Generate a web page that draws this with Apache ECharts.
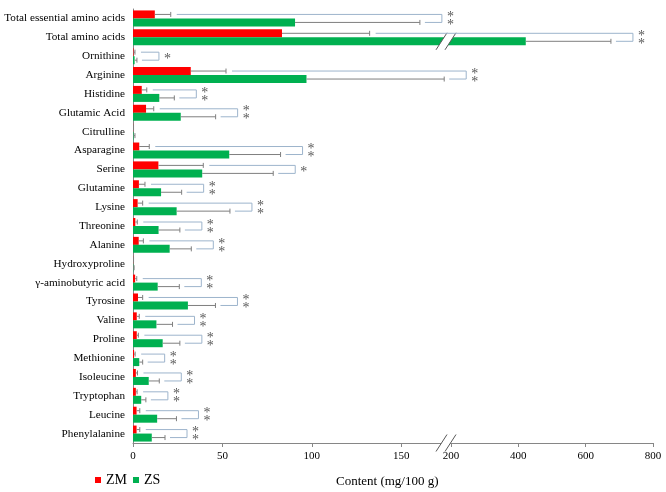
<!DOCTYPE html>
<html><head><meta charset="utf-8">
<script src="https://cdn.jsdelivr.net/npm/echarts@6/dist/echarts.min.js"></script>
<style>html,body{margin:0;padding:0;background:#fff}#c{width:666px;height:492px}</style>
</head><body><div id="c"></div>
<script>
// ---------------- data ----------------
const categories = ['Total essential amino acids','Total amino acids','Ornithine','Arginine','Histidine','Glutamic Acid','Citrulline','Asparagine','Serine','Glutamine','Lysine','Threonine','Alanine','Hydroxyproline','\u03b3-aminobutyric acid','Tyrosine','Valine','Proline','Methionine','Isoleucine','Tryptophan','Leucine','Phenylalanine'];
const zmValues = [12.2, 83.3, 0.3, 32.3, 4.9, 7.3, 0.1, 3.5, 14.2, 3.3, 2.6, 1.3, 3.2, 0.1, 1.2, 2.8, 2.1, 2.1, 0.6, 1.6, 1.6, 2.0, 2.0];
const zmErrors = [8.9, 49, 0.8, 19.7, 2.8, 4.3, 0.2, 5.6, 25.1, 3.4, 2.8, 1.1, 2.6, 0.2, 0.9, 2.6, 1.4, 0.9, 0.6, 0.9, 0.7, 1.8, 1.8];
const zsValues = [90.6, 422, 0.9, 97, 14.7, 26.7, 0.3, 53.8, 38.7, 15.7, 24.4, 14.3, 20.5, 0.2, 13.8, 30.7, 13.1, 16.6, 3.5, 8.8, 4.6, 13.5, 10.5];
const zsErrors = [69.8, 253, 1.3, 77, 8.4, 19.5, 0.8, 28.7, 39.7, 11.5, 29.8, 11.9, 12.1, 0.4, 12.1, 15.4, 9.0, 9.6, 1.9, 5.9, 2.6, 10.8, 7.4];
const significance = ['**','**','*','**','**','**','','**','*','**','**','**','**','','**','**','**','**','**','**','**','**','**'];
const leftTicks = [0, 50, 100, 150];
const rightTicks = [200, 400, 600, 800];
const seriesNames = ['ZM', 'ZS'];
const axisTitle = 'Content (mg/100 g)';

// ---------------- style ----------------
const FONT = "'Liberation Serif','Times New Roman',serif";
const RED = '#FF0000', GREEN = '#00B050';
const AXIS = '#868686', ERR = '#7F7F7F', BR = '#9DB4CC', STAR = '#595959';
const LEFT_MAX = 175, RIGHT_MIN = 185, RIGHT_MAX = 800;
const BAR_W = 8, HALF = BAR_W / 2;

const chart = echarts.init(document.getElementById('c'));

function catAxis(i, show) {
  return {
    type: 'category', gridIndex: i, data: categories, inverse: true, show: show,
    axisTick: {show: false},
    axisLine: {show: show, lineStyle: {color: AXIS, width: 1}},
    axisLabel: {show: show, interval: 0, fontFamily: FONT, fontSize: 11.2, color: '#000', margin: 8},
    splitLine: {show: false}
  };
}
function valAxis(i, min, max, ticks) {
  return {
    type: 'value', gridIndex: i, min: min, max: max,
    splitLine: {show: false},
    axisLine: {show: true, lineStyle: {color: AXIS, width: 1}},
    axisTick: {show: true, length: 4, customValues: ticks, lineStyle: {color: AXIS}},
    axisLabel: {customValues: ticks, fontFamily: FONT, fontSize: 11, color: '#000', margin: 8}
  };
}
function bars(gi) {
  return [
    {name: seriesNames[0], type: 'bar', xAxisIndex: gi, yAxisIndex: gi, data: zmValues, barWidth: BAR_W, barGap: '0%', itemStyle: {color: RED}, clip: true, silent: true},
    {name: seriesNames[1], type: 'bar', xAxisIndex: gi, yAxisIndex: gi, data: zsValues, barWidth: BAR_W, barGap: '0%', itemStyle: {color: GREEN}, clip: true, silent: true}
  ];
}

chart.setOption({
  animation: false,
  backgroundColor: '#fff',
  title: {text: axisTitle, left: 336, top: 475, padding: 0,
          textStyle: {fontFamily: FONT, fontSize: 13, fontWeight: 'normal', color: '#000'}},
  legend: {data: seriesNames, left: 95, top: 473, padding: 0, itemWidth: 6, itemHeight: 6, itemGap: 6, icon: 'rect',
           textStyle: {fontFamily: FONT, fontSize: 14, color: '#000'}},
  grid: [
    {left: 133, width: 313, top: 9, bottom: 49, outerBoundsMode: 'none'},
    {left: 446, width: 207, top: 9, bottom: 49, outerBoundsMode: 'none'}
  ],
  xAxis: [valAxis(0, 0, LEFT_MAX, leftTicks), valAxis(1, RIGHT_MIN, RIGHT_MAX, rightTicks)],
  yAxis: [catAxis(0, true), catAxis(1, false)],
  series: bars(0).concat(bars(1))
});

// piecewise mapping from the two axes of the broken scale
const a0 = chart.convertToPixel({xAxisIndex: 0}, 0), a1 = chart.convertToPixel({xAxisIndex: 0}, LEFT_MAX);
const b0 = chart.convertToPixel({xAxisIndex: 1}, RIGHT_MIN), b1 = chart.convertToPixel({xAxisIndex: 1}, RIGHT_MAX);
function xPx(v) {
  return v <= LEFT_MAX ? a0 + (a1 - a0) * v / LEFT_MAX
                       : b0 + (b1 - b0) * (v - RIGHT_MIN) / (RIGHT_MAX - RIGHT_MIN);
}
const yCat = i => chart.convertToPixel({yAxisIndex: 0}, categories[i]);
const band = yCat(1) - yCat(0);

function renderItem(params, api) {
  const i = api.value(1);
  const yc = api.coord([0, i])[1];
  const yR = yc - HALF, yG = yc + HALF;
  const ch = [];
  function err(v, sd, y) {
    const x1 = xPx(v), x2 = xPx(v + sd);
    ch.push({type: 'line', shape: {x1: x1, y1: y, x2: x2, y2: y}, style: {stroke: ERR, lineWidth: 1}});
    ch.push({type: 'line', shape: {x1: x2, y1: y - 2.5, x2: x2, y2: y + 2.5}, style: {stroke: ERR, lineWidth: 1}});
    return x2;
  }
  const xr = err(zmValues[i], zmErrors[i], yR);
  const xg = err(zsValues[i], zsErrors[i], yG);
  const sig = significance[i];
  if (sig) {
    const bx = Math.max(xr, xg) + 22;
    ch.push({type: 'polyline', shape: {points: [[xr + 6, yR], [bx, yR], [bx, yG], [xg + 5, yG]]},
             style: {stroke: BR, fill: null, lineWidth: 1}});
    const ys = sig === '**' ? [yR, yG] : [yc];
    ys.forEach(function (y) {
      ch.push({type: 'text', x: bx + 5, y: y + 3,
               style: {text: '*', fontFamily: FONT, fontSize: 14, fill: STAR, align: 'left', verticalAlign: 'middle'}});
    });
  }
  return {type: 'group', children: ch};
}

// axis-break marks
const xb = (a1 + b0) / 2;
function breakMark(y) {
  const x1 = xb - 4.5, x2 = xb + 4.5, dx = 5.5, dy = 8.5;
  return [
    {type: 'polygon', z: 5, shape: {points: [[x1 - dx, y + dy], [x1 + dx, y - dy], [x2 + dx, y - dy], [x2 - dx, y + dy]]},
     style: {fill: '#fff', stroke: null}},
    {type: 'line', z: 6, shape: {x1: x1 - dx, y1: y + dy, x2: x1 + dx, y2: y - dy}, style: {stroke: '#595959', lineWidth: 1}},
    {type: 'line', z: 6, shape: {x1: x2 - dx, y1: y + dy, x2: x2 + dx, y2: y - dy}, style: {stroke: '#595959', lineWidth: 1}}
  ];
}
const yAxisLine = yCat(categories.length - 1) + band / 2;
const yBigBar = yCat(1) + HALF;

chart.setOption({
  graphic: {elements: breakMark(yAxisLine).concat(breakMark(yBigBar))},
  series: bars(0).concat(bars(1)).concat([{
    type: 'custom', xAxisIndex: 0, yAxisIndex: 0, clip: false, silent: true, z: 10,
    data: categories.map(function (c, i) { return [0, i]; }),
    renderItem: renderItem
  }])
});
</script>
</body></html>
